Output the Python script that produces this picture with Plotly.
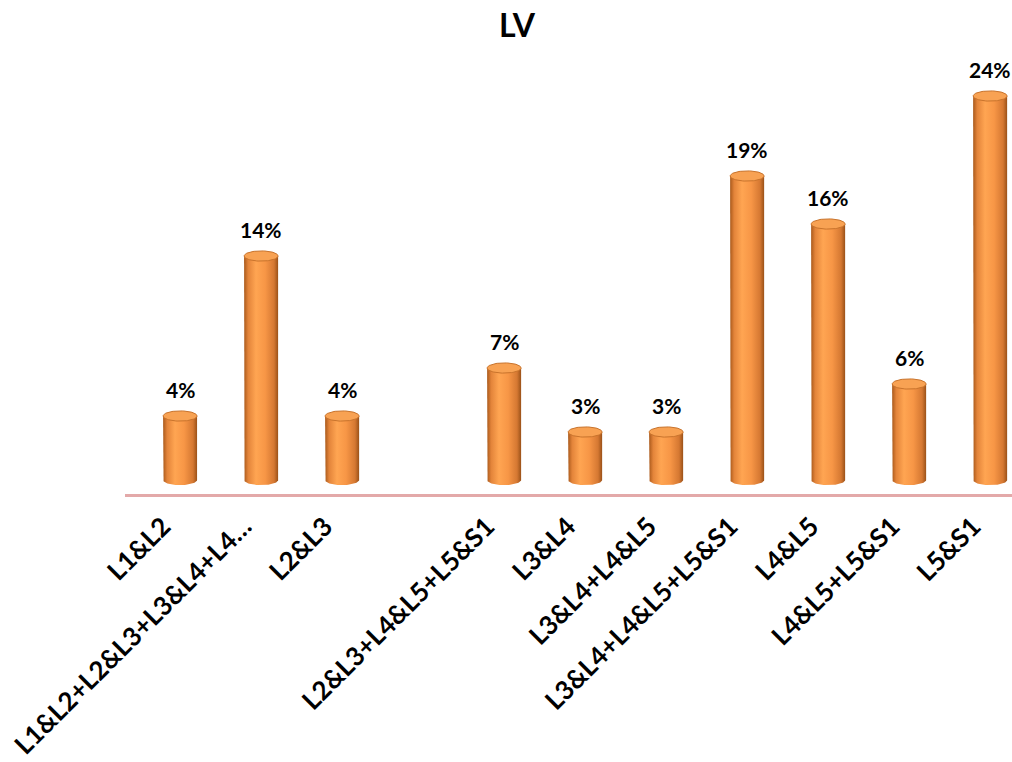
import numpy as np
import plotly.graph_objects as go

# Spinal levels (one empty slot keeps the gap between L2&L3 and the next group)
categories = [
    "L1&L2",
    "L1&L2+L2&L3+L3&L4+L4…",
    "L2&L3",
    "",
    "L2&L3+L4&L5+L5&S1",
    "L3&L4",
    "L3&L4+L4&L5",
    "L3&L4+L4&L5+L5&S1",
    "L4&L5",
    "L4&L5+L5&S1",
    "L5&S1",
]
percent = [4, 14, 4, None, 7, 3, 3, 19, 16, 6, 24]
chart_title = "LV"

# cylinder geometry (x in category units, cap half-height in % units)
HALF_W = 0.21
CAP_RY = 0.32
LABEL_FONT = "Lato"

body_scale = [
    [0.0, "#a9591b"],
    [0.12, "#e3843a"],
    [0.35, "#ffa552"],
    [0.62, "#f79646"],
    [0.88, "#d57832"],
    [1.0, "#9a5118"],
]

fig = go.Figure()

t_half = np.linspace(0, np.pi, 40)
t_full = np.linspace(0, 2 * np.pi, 80)

for i, v in enumerate(percent):
    if v is None:
        continue
    # body: straight sides with a rounded bottom edge
    bx = np.concatenate([[i - HALF_W, i - HALF_W], i - HALF_W * np.cos(t_half), [i + HALF_W, i - HALF_W]])
    by = np.concatenate([[v, 0], -CAP_RY * np.sin(t_half), [v, v]])
    fig.add_trace(go.Scatter(
        x=bx, y=by, mode="lines", fill="toself",
        line=dict(width=0, color="rgba(0,0,0,0)"),
        fillgradient=dict(type="horizontal", colorscale=body_scale),
        hoverinfo="skip", showlegend=False,
    ))
    # top cap ellipse
    fig.add_trace(go.Scatter(
        x=i + HALF_W * np.cos(t_full), y=v + CAP_RY * np.sin(t_full),
        mode="lines", fill="toself", fillcolor="#f8a253",
        line=dict(width=1, color="#c8732c"),
        hoverinfo="skip", showlegend=False,
    ))
    fig.add_annotation(
        x=i, y=v, text=f"{v}%", showarrow=False,
        yanchor="bottom", yshift=12,
        font=dict(family=LABEL_FONT, size=21, color="#000000", weight="bold"),
    )

tick_idx = [i for i, c in enumerate(categories) if c]
tick_txt = [categories[i] for i in tick_idx]

fig.update_layout(
    width=1012, height=762,
    margin=dict(l=125, r=0, t=60, b=268),
    paper_bgcolor="white", plot_bgcolor="white",
    title=dict(
        text=chart_title, x=517 / 1012, xref="container", xanchor="center",
        y=1 - 26 / 762, yref="container", yanchor="middle",
        font=dict(family=LABEL_FONT, size=32, color="#000000", weight="bold"),
    ),
    xaxis=dict(
        range=[-0.68, 10.27], tickmode="array", tickvals=tick_idx, ticktext=tick_txt,
        tickangle=-45, ticks="", showgrid=False, zeroline=False, automargin=False,
        showline=True, linecolor="#e3a9a9", linewidth=3,
        tickfont=dict(family=LABEL_FONT, size=26, color="#000000", weight="bold"),
        ticklabelstandoff=4, ticklabelshift=-17, ticklabeloverflow="allow",
    ),
    yaxis=dict(range=[-0.875, 26.25], visible=False, showgrid=False, zeroline=False),
)

fig.write_html("out.html")
